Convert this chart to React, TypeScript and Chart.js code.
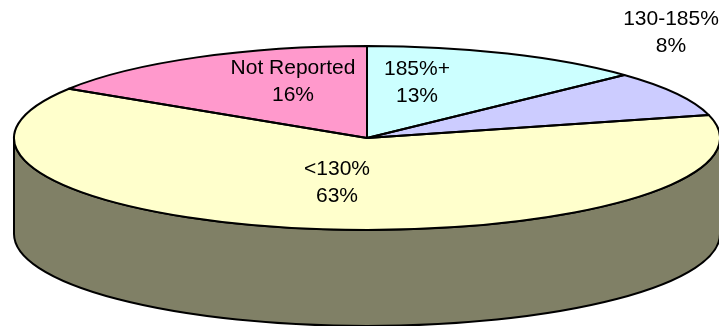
import React, { useEffect, useRef } from "react";
import { Chart, registerables } from "chart.js";

Chart.register(...registerables);

const categories = ["185%+", "130-185%", "<130%", "Not Reported"];
const shares = [13, 8, 63, 16];
const sliceColors = ["#CCFFFF", "#CCCCFF", "#FFFFCC", "#FF99CC"];
const wallColors = ["#668080", "#666680", "#808066", "#804D66"];

// Centre of each two-line caption, in canvas pixels.
const captionX = [417, 671, 337, 293];
const captionY = [83, 33, 183, 82];

const WIDTH = 719;
const HEIGHT = 326;
const RADIUS_X = 353;
const RADIUS_Y = 92;
const DEPTH = 96;
const SQUASH = RADIUS_Y / RADIUS_X;
const OUTLINE = "#000000";
const OUTLINE_WIDTH = 2;

// Traces an elliptical arc in canvas space, following the angle parameter.
function wallPath(ctx: CanvasRenderingContext2D, x: number, y: number, a0: number, a1: number) {
  ctx.beginPath();
  ctx.ellipse(x, y, RADIUS_X, RADIUS_Y, 0, a0, a1);
  ctx.ellipse(x, y + DEPTH, RADIUS_X, RADIUS_Y, 0, a1, a0, true);
  ctx.closePath();
}

const tiltedPie = {
  id: "tiltedPie",
  // Extruded rim: the part of each slice that faces the viewer.
  beforeDatasetDraw(chart: any) {
    const ctx: CanvasRenderingContext2D = chart.ctx;
    chart.getDatasetMeta(0).data.forEach((arc: any, i: number) => {
      // Angles run clockwise from 12 o'clock at -90deg, so normalise into one turn.
      const twoPi = Math.PI * 2;
      for (const shift of [0, twoPi, -twoPi]) {
        const a0 = Math.max(arc.startAngle + shift, 0);
        const a1 = Math.min(arc.endAngle + shift, Math.PI);
        if (a1 <= a0) continue;
        ctx.save();
        wallPath(ctx, arc.x, arc.y, a0, a1);
        ctx.fillStyle = wallColors[i];
        ctx.fill();
        ctx.strokeStyle = OUTLINE;
        ctx.lineWidth = OUTLINE_WIDTH;
        ctx.lineJoin = "round";
        ctx.stroke();
        ctx.restore();
      }
    });
    // Flatten the circular slices into the top face of the disc.
    const first = chart.getDatasetMeta(0).data[0];
    ctx.save();
    ctx.translate(first.x, first.y);
    ctx.scale(1, SQUASH);
    ctx.translate(-first.x, -first.y);
  },
  afterDatasetDraw(chart: any) {
    const ctx: CanvasRenderingContext2D = chart.ctx;
    ctx.restore();
    // Outlines are stroked outside the squash so their width stays even.
    chart.getDatasetMeta(0).data.forEach((arc: any) => {
      ctx.save();
      ctx.beginPath();
      ctx.moveTo(arc.x, arc.y);
      ctx.ellipse(arc.x, arc.y, RADIUS_X, RADIUS_Y, 0, arc.startAngle, arc.endAngle);
      ctx.closePath();
      ctx.strokeStyle = OUTLINE;
      ctx.lineWidth = OUTLINE_WIDTH;
      ctx.lineJoin = "round";
      ctx.stroke();
      ctx.restore();
    });
  },
  afterDatasetsDraw(chart: any) {
    const ctx: CanvasRenderingContext2D = chart.ctx;
    ctx.save();
    ctx.font = '21px "Liberation Sans", Arial, sans-serif';
    ctx.fillStyle = "#000000";
    ctx.textAlign = "center";
    ctx.textBaseline = "middle";
    categories.forEach((name, i) => {
      ctx.fillText(name, captionX[i], captionY[i] - 13.5);
      ctx.fillText(`${shares[i]}%`, captionX[i], captionY[i] + 13.5);
    });
    ctx.restore();
  },
};

export default function App() {
  const canvasRef = useRef<HTMLCanvasElement>(null);

  useEffect(() => {
    document.body.style.margin = "0";
    const chart = new Chart(canvasRef.current!, {
      type: "pie",
      data: {
        labels: categories,
        datasets: [
          {
            data: shares,
            backgroundColor: sliceColors,
            borderWidth: 0,
            radius: RADIUS_X,
            clip: false,
          },
        ],
      },
      options: {
        responsive: false,
        animation: false,
        layout: { padding: { left: 15, right: 0, top: 0, bottom: 50 } },
        plugins: {
          legend: { display: false },
          tooltip: { enabled: false },
          title: { display: false },
        },
      },
      plugins: [tiltedPie],
    } as any);
    return () => chart.destroy();
  }, []);

  return (
    <div style={{ width: WIDTH, height: HEIGHT, background: "#FFFFFF" }}>
      <canvas ref={canvasRef} width={WIDTH} height={HEIGHT} style={{ display: "block" }} />
    </div>
  );
}
